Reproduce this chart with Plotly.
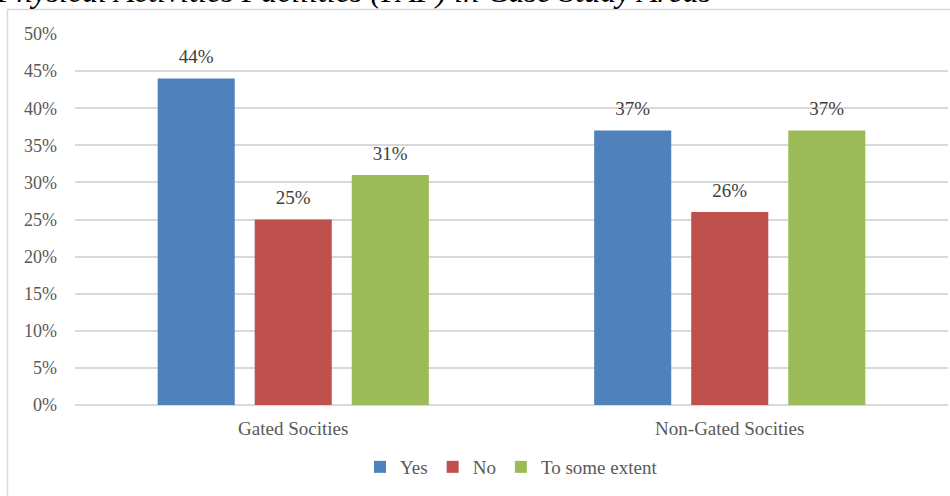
import plotly.graph_objects as go

categories = ["Gated Socities", "Non-Gated Socities"]
series_names = ["Yes", "No", "To some extent"]
yes_vals = [0.44, 0.37]
no_vals = [0.25, 0.26]
some_vals = [0.31, 0.37]
colors = ["#4F81BD", "#C0504D", "#9BBB59"]
tick_vals = [0, 0.05, 0.10, 0.15, 0.20, 0.25, 0.30, 0.35, 0.40, 0.45, 0.50]
title_text = "Physical Activities Facilities (PAF) in Case Study Areas"

FONT = "Liberation Serif, Times New Roman, serif"
W, H = 950, 496
ml, mr, mt, mb = 75, 2, 34, 91
pw, ph = W - ml - mr, H - mt - mb

fig = go.Figure()
for name, vals, col in zip(series_names, [yes_vals, no_vals, some_vals], colors):
    fig.add_trace(go.Bar(
        x=categories, y=vals, name=name, marker_color=col, marker_line_width=0,
        texttemplate="<span style='font-size:19px'>%{y:.0%}</span><br><span style='color:rgba(0,0,0,0)'>.</span>",
        textposition="outside",
        textfont=dict(family=FONT, size=8, color="#404040"),
        cliponaxis=False,
    ))

def px_x(p):
    return (p - ml) / pw

def px_y(p):
    return 1 - (p - mt) / ph

fig.update_layout(
    width=W, height=H,
    margin=dict(l=ml, r=mr, t=mt, b=mb),
    paper_bgcolor="white", plot_bgcolor="white",
    barmode="group", bargap=0.333, bargroupgap=0.206,
    font=dict(family=FONT, size=18, color="#595959"),
    xaxis=dict(showgrid=False, showline=False, ticks="", ticklabelstandoff=10,
               tickfont=dict(family=FONT, size=19, color="#595959")),
    yaxis=dict(range=[0, 0.5], tickvals=tick_vals, tickformat=".0%",
               showgrid=True, gridcolor="#d9d9d9", gridwidth=1.5,
               zeroline=True, zerolinecolor="#d9d9d9", zerolinewidth=1.5,
               showline=False, ticks="", ticklabelstandoff=17,
               tickfont=dict(family=FONT, size=18, color="#595959")),
    legend=dict(orientation="h", x=0.5, xanchor="center", y=px_y(448), yanchor="top",
                font=dict(family=FONT, size=19, color="#595959"),
                itemwidth=30, traceorder="normal"),
    showlegend=True,
    shapes=[dict(type="rect", xref="paper", yref="paper",
                 x0=px_x(7.5), x1=px_x(960), y0=px_y(520), y1=px_y(9.5),
                 line=dict(color="#d9d9d9", width=1.5), fillcolor="rgba(0,0,0,0)", layer="below")],
    annotations=[dict(text=title_text, xref="paper", yref="paper",
                      x=px_x(-6), xanchor="left", y=px_y(10.5), yanchor="bottom",
                      showarrow=False, font=dict(family=FONT, size=32, color="#000000", style="italic"))],
)

fig.write_html("out.html")
